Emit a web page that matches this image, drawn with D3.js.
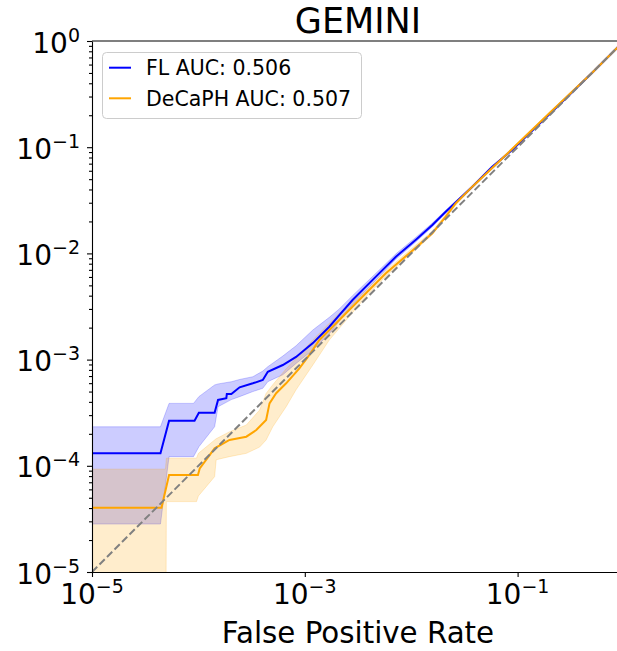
<!DOCTYPE html>
<html>
<head>
<meta charset="utf-8">
<script src="https://cdn.jsdelivr.net/npm/d3@7"></script>
<style>
  body { margin: 0; background: #fff; }
  svg { display: block; font-family: "DejaVu Sans", sans-serif; }
</style>
</head>
<body>
<svg id="chart"></svg>
<script>
// mean ROC curves
const flFpr = [1e-5, 4.4e-5, 5.3e-5, 9.2e-5, 1.01e-4, 1.42e-4, 1.53e-4, 1.83e-4, 1.85e-4, 2.04e-4, 2.44e-4, 3.25e-4, 4.03e-4, 4.49e-4, 6.21e-4, 8.28e-4, 1.19e-3, 1.70e-3, 2.11e-3, 2.81e-3, 4.66e-3, 7.18e-3, 1.10e-2, 1.58e-2, 2.11e-2, 3.75e-2, 5.77e-2, 8.87e-2, 0.2, 0.5, 1];
const flTpr = [1.31e-4, 1.31e-4, 2.66e-4, 2.66e-4, 3.16e-4, 3.16e-4, 4.17e-4, 4.33e-4, 4.74e-4, 4.74e-4, 5.48e-4, 5.98e-4, 6.43e-4, 7.69e-4, 8.89e-4, 1.06e-3, 1.43e-3, 2.04e-3, 2.62e-3, 3.64e-3, 6.04e-3, 9.31e-3, 1.34e-2, 1.85e-2, 2.47e-2, 4.25e-2, 6.55e-2, 9.42e-2, 0.205, 0.5, 1];

const dcFpr = [1e-5, 4.5e-5, 5.3e-5, 9.9e-5, 1.03e-4, 1.42e-4, 1.96e-4, 2.82e-4, 3.5e-4, 4.33e-4, 4.66e-4, 5.38e-4, 6.68e-4, 8.89e-4, 1.10e-3, 1.37e-3, 1.70e-3, 2.11e-3, 3.75e-3, 5.78e-3, 9.55e-3, 1.58e-2, 2.11e-2, 2.62e-2, 3.75e-2, 8.87e-2, 0.2, 0.5, 1];
const dcTpr = [4.03e-5, 4.03e-5, 8.18e-5, 8.18e-5, 9.46e-5, 1.46e-4, 1.75e-4, 1.88e-4, 2.17e-4, 2.7e-4, 3.87e-4, 4.82e-4, 5.98e-4, 8.28e-4, 1.10e-3, 1.53e-3, 1.90e-3, 2.36e-3, 4.21e-3, 6.5e-3, 1.0e-2, 1.55e-2, 2.22e-2, 2.96e-2, 4.25e-2, 9.6e-2, 0.21, 0.5, 1];

// shaded bands
const flBandFpr = [1e-5, 4.4e-5, 5.3e-5, 9.0e-5, 1.01e-4, 1.42e-4, 1.53e-4, 2.04e-4, 2.44e-4, 3.25e-4, 4.03e-4, 4.49e-4, 6.21e-4, 8.28e-4, 1.19e-3, 1.70e-3, 2.11e-3, 2.81e-3, 4.66e-3, 7.18e-3, 1.10e-2, 1.58e-2, 2.11e-2, 3.75e-2, 8.87e-2, 1];
const flBandLow = [2.83e-5, 2.83e-5, 1.22e-4, 1.22e-4, 1.51e-4, 2.33e-4, 3.6e-4, 4.2e-4, 4.48e-4, 5.0e-4, 5.37e-4, 6.2e-4, 7.2e-4, 9.2e-4, 1.23e-3, 1.75e-3, 2.3e-3, 3.3e-3, 5.6e-3, 8.8e-3, 1.28e-2, 1.78e-2, 2.4e-2, 4.18e-2, 9.3e-2, 1];
const flBandHigh = [2.33e-4, 2.33e-4, 3.87e-4, 3.87e-4, 4.48e-4, 5.77e-4, 5.9e-4, 6.19e-4, 6.5e-4, 6.9e-4, 7.8e-4, 8.57e-4, 1.08e-3, 1.35e-3, 1.9e-3, 2.5e-3, 3.0e-3, 4.0e-3, 6.5e-3, 9.9e-3, 1.41e-2, 1.93e-2, 2.55e-2, 4.32e-2, 9.55e-2, 1];

const dcBandFpr = [1e-5, 4.9e-5, 5.0e-5, 9.6e-5, 1.0e-4, 1.42e-4, 1.47e-4, 1.96e-4, 2.82e-4, 3.76e-4, 4.33e-4, 5.0e-4, 5.78e-4, 6.68e-4, 8.28e-4, 1.19e-3, 1.70e-3, 2.11e-3, 3.75e-3, 5.78e-3, 9.55e-3, 1.58e-2, 2.62e-2, 4.0e-2, 8.87e-2, 1];
const dcBandLow = [1e-7, 1e-7, 4.6e-5, 4.6e-5, 5.2e-5, 7.9e-5, 1.14e-4, 1.22e-4, 1.31e-4, 1.5e-4, 1.75e-4, 2.33e-4, 2.9e-4, 3.6e-4, 5.2e-4, 8.9e-4, 1.53e-3, 1.97e-3, 3.9e-3, 6.1e-3, 9.5e-3, 1.5e-2, 2.85e-2, 4.38e-2, 9.35e-2, 1];
const dcBandHigh = [9.3e-5, 9.3e-5, 1.18e-4, 1.18e-4, 1.31e-4, 1.75e-4, 1.8e-4, 2.09e-4, 2.42e-4, 3.35e-4, 4.8e-4, 5.8e-4, 6.9e-4, 8.2e-4, 1.03e-3, 1.53e-3, 2.2e-3, 2.73e-3, 4.5e-3, 6.9e-3, 1.06e-2, 1.62e-2, 3.05e-2, 4.6e-2, 9.85e-2, 1];

const legendLabels = ["FL AUC: 0.506", "DeCaPH AUC: 0.507"];
const xMajor = [1e-5, 1e-3, 1e-1];
const xExp = ["\u22125", "\u22123", "\u22121"];
const yMajor = [1e-5, 1e-4, 1e-3, 1e-2, 1e-1, 1];
const yExp = ["\u22125", "\u22124", "\u22123", "\u22122", "\u22121", "0"];

const width = 617, height = 651,
  plotLeft = 92, plotRight = 624, plotTop = 41, plotBottom = 572;

const x = d3.scaleLog().domain([1e-5, 1]).range([plotLeft, plotRight]);
const y = d3.scaleLog().domain([1e-5, 1]).range([plotBottom, plotTop]);

const svg = d3.select("#chart").attr("width", width).attr("height", height);

svg.append("clipPath").attr("id", "plot-clip")
  .append("rect")
  .attr("x", plotLeft).attr("y", plotTop)
  .attr("width", plotRight - plotLeft).attr("height", plotBottom - plotTop);

const plot = svg.append("g").attr("clip-path", "url(#plot-clip)");

const band = (f, lo, hi) => f.map((v, i) => ({ f: v, lo: lo[i], hi: hi[i] }));
const curve = (f, t) => f.map((v, i) => ({ f: v, t: t[i] }));

const area = d3.area()
  .x(d => x(d.f))
  .y0(d => y(d.lo))
  .y1(d => y(d.hi));
const line = d3.line()
  .x(d => x(d.f))
  .y(d => y(d.t));

plot.append("path")
  .datum(band(flBandFpr, flBandLow, flBandHigh))
  .attr("d", area)
  .attr("fill", "blue").attr("fill-opacity", 0.2)
  .attr("stroke", "blue").attr("stroke-opacity", 0.2).attr("stroke-width", 1);

plot.append("path")
  .datum(band(dcBandFpr, dcBandLow, dcBandHigh))
  .attr("d", area)
  .attr("fill", "orange").attr("fill-opacity", 0.2)
  .attr("stroke", "orange").attr("stroke-opacity", 0.2).attr("stroke-width", 1);

plot.append("path")
  .datum(curve(flFpr, flTpr))
  .attr("d", line)
  .attr("fill", "none").attr("stroke", "blue").attr("stroke-width", 2);

plot.append("path")
  .datum(curve(dcFpr, dcTpr))
  .attr("d", line)
  .attr("fill", "none").attr("stroke", "orange").attr("stroke-width", 2);

plot.append("path")
  .datum(curve([1e-5, 1], [1e-5, 1]))
  .attr("d", line)
  .attr("fill", "none").attr("stroke", "gray").attr("stroke-width", 2)
  .attr("stroke-dasharray", "7.4,3.2");

// y axis
const yMinor = [];
for (let e = -5; e < 0; e++) for (let m = 2; m <= 9; m++) yMinor.push(m * Math.pow(10, e));

svg.append("g")
  .attr("transform", "translate(" + plotLeft + ",0)")
  .call(d3.axisLeft(y).tickValues(yMinor).tickSize(3).tickFormat(""))
  .call(g => g.select(".domain").remove());

svg.append("g")
  .attr("transform", "translate(" + plotLeft + ",0)")
  .call(d3.axisLeft(y).tickValues(yMajor).tickSize(5).tickSizeOuter(0).tickFormat(""));

yMajor.forEach((v, i) => {
  const t = svg.append("text")
    .attr("x", 80).attr("y", y(v) + 11.6)
    .attr("text-anchor", "end")
    .attr("fill", "#000");
  t.append("tspan").attr("font-size", 28).text("10");
  t.append("tspan").attr("font-size", 19).attr("dy", -11).text(yExp[i]);
});

// x axis
svg.append("g")
  .attr("transform", "translate(0," + plotBottom + ")")
  .call(d3.axisBottom(x).tickValues(xMajor).tickSize(5).tickSizeOuter(0).tickFormat(""));

xMajor.forEach((v, i) => {
  const t = svg.append("text")
    .attr("x", x(v)).attr("y", 604.3)
    .attr("text-anchor", "middle")
    .attr("fill", "#000");
  t.append("tspan").attr("font-size", 28).text("10");
  t.append("tspan").attr("font-size", 19).attr("dy", -11).text(xExp[i]);
});

svg.selectAll(".domain").attr("stroke-width", 1.1);
svg.selectAll(".tick line").attr("stroke-width", 1.1);

// top and right spines
svg.append("line")
  .attr("x1", plotLeft).attr("x2", plotRight)
  .attr("y1", plotTop).attr("y2", plotTop)
  .attr("stroke", "#000").attr("stroke-width", 1.1);
svg.append("line")
  .attr("x1", plotRight).attr("x2", plotRight)
  .attr("y1", plotTop).attr("y2", plotBottom)
  .attr("stroke", "#000").attr("stroke-width", 1.1);

// title and axis label
svg.append("text")
  .attr("x", (plotLeft + plotRight) / 2).attr("y", 33)
  .attr("text-anchor", "middle")
  .attr("font-size", 35)
  .text("GEMINI");

svg.append("text")
  .attr("x", (plotLeft + plotRight) / 2).attr("y", 643)
  .attr("text-anchor", "middle")
  .attr("font-size", 29.3)
  .text("False Positive Rate");

// legend
const legend = svg.append("g");
legend.append("rect")
  .attr("x", 102.5).attr("y", 52.5)
  .attr("width", 259).attr("height", 66)
  .attr("rx", 4)
  .attr("fill", "#fff").attr("fill-opacity", 0.8)
  .attr("stroke", "#ccc").attr("stroke-width", 1);

const legendColors = ["blue", "orange"];
legendLabels.forEach((label, i) => {
  const cy = 67.7 + i * 30.6;
  legend.append("line")
    .attr("x1", 109).attr("x2", 131)
    .attr("y1", cy).attr("y2", cy)
    .attr("stroke", legendColors[i]).attr("stroke-width", 2);
  legend.append("text")
    .attr("x", 146).attr("y", cy + 7.3)
    .attr("font-size", 20.5)
    .text(label);
});
</script>
</body>
</html>
